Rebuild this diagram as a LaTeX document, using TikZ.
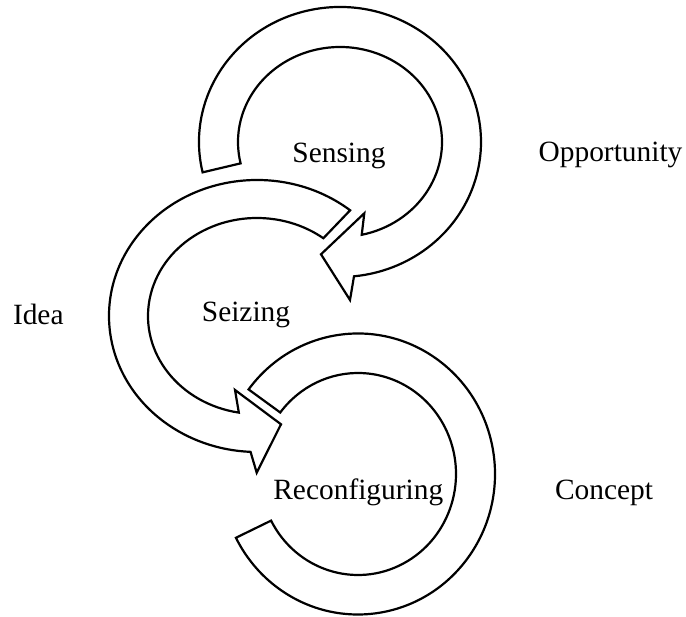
\documentclass[tikz,border=0pt]{standalone}
\usepackage{fontspec}
\setmainfont{Liberation Serif}

\begin{document}
\begin{tikzpicture}[x=1pt,y=1pt,
        cyclearrow/.style={draw, line width=2.2pt, fill=white, line join=miter},
        phase/.style={anchor=base, inner sep=0pt, font=\fontsize{29.4}{34}\selectfont}]
        \useasboundingbox (0,0) rectangle (686,617);
        \begin{scope}[shift={(340,475)}]
                \draw[cyclearrow] (193:141 and 135) arc[start angle=193, end angle=-84.3, x radius=141, y radius=135]
                        -- (10,-158) -- (-19,-112.3) -- (24.3,-71.3) -- (-77.7:102 and 95)
                        arc[start angle=-77.7, end angle=193, x radius=102, y radius=95] -- cycle;
        \end{scope}
        \begin{scope}[shift={(257,301)}]
                \draw[cyclearrow] (51:148 and 136) arc[start angle=51, end angle=267.5, x radius=148, y radius=136]
                        -- (-0.3,-156.7) -- (24,-108.3) -- (-22,-74) -- (260.4:109 and 98)
                        arc[start angle=260.4, end angle=52.5, x radius=109, y radius=98] -- cycle;
        \end{scope}
        \begin{scope}[shift={(358,143)}]
                \draw[cyclearrow] (143:137 and 140.5) arc[start angle=143, end angle=-153, x radius=137, y radius=140.5]
                        -- (-152.5:98 and 101)
                        arc[start angle=-152.5, end angle=142.5, x radius=98, y radius=101] -- cycle;
        \end{scope}
        \node[phase] (sensing) at (339,454) {Sensing};
        \node[phase] (opportunity) at (610.5,455.5) {Opportunity};
        \node[phase] (idea) at (38.3,292) {Idea};
        \node[phase] (seizing) at (246,295.3) {Seizing};
        \node[phase] (reconfiguring) at (358.3,117) {Reconfiguring};
        \node[phase] (concept) at (604,117) {Concept};
\end{tikzpicture}
\end{document}
